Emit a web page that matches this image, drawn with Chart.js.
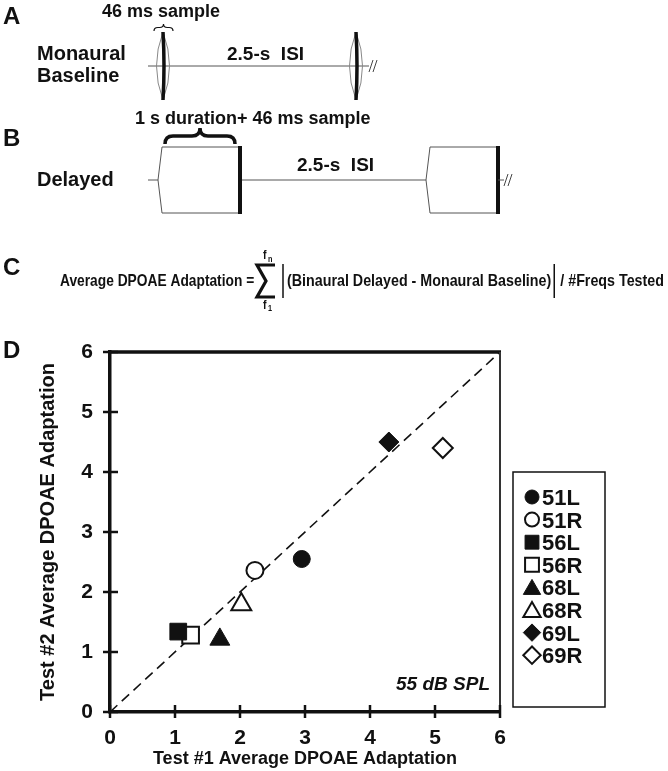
<!DOCTYPE html>
<html>
<head>
<meta charset="utf-8">
<script src="https://cdn.jsdelivr.net/npm/chart.js@4.4.1/dist/chart.umd.min.js"></script>
<style>
  html, body { margin: 0; padding: 0; background: #fff; }
  #wrap { position: relative; width: 668px; height: 771px; }
</style>
</head>
<body>
<div id="wrap"><canvas id="dpoae" width="668" height="771"></canvas></div>
<script>
// ---- data ----
const subjects = ['51L', '51R', '56L', '56R', '68L', '68R', '69L', '69R'];
const test1 = [2.95, 2.23, 1.05, 1.24, 1.69, 2.02, 4.29, 5.12];
const test2 = [2.55, 2.36, 1.34, 1.28, 1.21, 1.79, 4.50, 4.40];
const axisTicks = [0, 1, 2, 3, 4, 5, 6];
const unity = [0, 6];

const FONT = "'Liberation Sans', Arial, Helvetica, sans-serif";
const INK = '#111';

// marker look by ear number: shape + radius (plot / legend)
const shapeFor = { '51': 'circle', '56': 'rect', '68': 'triangle', '69': 'rectRot' };
const radiusFor = { circle: [8.5, 7], rect: [11.8, 9.8], triangle: [11.5, 10], rectRot: [10, 8.7] };

const markerOpts = (name, legend) => {
    const style = shapeFor[name.slice(0, 2)];
    const filled = name.endsWith('L');
    return {
        pointStyle: style,
        radius: radiusFor[style][legend ? 1 : 0],
        borderWidth: filled ? 1 : 2,
        rotation: 0,
        fill: filled ? INK : '#fff'
    };
};

// ---- little drawing helpers for the schematic panels ----
function txt(ctx, s, x, y, size, opts = {}) {
    ctx.save();
    ctx.font = `${opts.italic ? 'italic ' : ''}bold ${size}px ${FONT}`;
    ctx.fillStyle = INK;
    ctx.textAlign = opts.align || 'left';
    ctx.textBaseline = 'alphabetic';
    ctx.translate(x, y);
    if (opts.sx) ctx.scale(opts.sx, 1);
    ctx.fillText(s, 0, 0);
    const w = ctx.measureText(s).width * (opts.sx || 1);
    ctx.restore();
    return w;
}

function hline(ctx, x1, x2, y) {
    ctx.strokeStyle = '#555';
    ctx.lineWidth = 1;
    ctx.beginPath(); ctx.moveTo(x1, y); ctx.lineTo(x2, y); ctx.stroke();
}

function brace(ctx, x1, x2, yBase, yTip, lw) {
    const xc = (x1 + x2) / 2, ym = (yBase + yTip) / 2, r = Math.min(8, (x2 - x1) / 5);
    ctx.strokeStyle = INK;
    ctx.lineWidth = lw;
    ctx.beginPath();
    ctx.moveTo(x1, yBase);
    ctx.quadraticCurveTo(x1, ym, x1 + r, ym);
    ctx.lineTo(xc - r, ym);
    ctx.quadraticCurveTo(xc, ym, xc, yTip);
    ctx.quadraticCurveTo(xc, ym, xc + r, ym);
    ctx.lineTo(x2 - r, ym);
    ctx.quadraticCurveTo(x2, ym, x2, yBase);
    ctx.stroke();
}

function burst(ctx, x, y1, y2) {
    const ym = (y1 + y2) / 2;
    ctx.strokeStyle = '#888';
    ctx.lineWidth = 1;
    ctx.beginPath();
    ctx.moveTo(x, y1);
    ctx.quadraticCurveTo(x - 13, ym, x, y2);
    ctx.quadraticCurveTo(x + 13, ym, x, y1);
    ctx.stroke();
    ctx.strokeStyle = INK;
    ctx.lineWidth = 3.5;
    ctx.beginPath();
    ctx.moveTo(x, y1);
    ctx.quadraticCurveTo(x + 2, ym, x, y2);
    ctx.stroke();
}

function stim(ctx, x1, x2, y1, y2) {
    const ym = (y1 + y2) / 2;
    ctx.strokeStyle = '#555';
    ctx.lineWidth = 1;
    ctx.beginPath();
    ctx.moveTo(x2, y1); ctx.lineTo(x1, y1); ctx.lineTo(x1 - 4, ym);
    ctx.lineTo(x1, y2); ctx.lineTo(x2, y2);
    ctx.stroke();
    ctx.strokeStyle = INK;
    ctx.lineWidth = 4;
    ctx.beginPath(); ctx.moveTo(x2, y1 - 1); ctx.lineTo(x2, y2 + 1); ctx.stroke();
}

function slashes(ctx, x, y) {
    ctx.strokeStyle = '#444';
    ctx.lineWidth = 1;
    ctx.beginPath();
    ctx.moveTo(x, y + 6); ctx.lineTo(x + 4, y - 6);
    ctx.moveTo(x + 4, y + 6); ctx.lineTo(x + 8, y - 6);
    ctx.stroke();
}

function drawSchematic(ctx) {
    txt(ctx, 'A', 3, 24, 24);
    txt(ctx, 'B', 3, 146, 24);
    txt(ctx, 'C', 3, 275, 24);
    txt(ctx, 'D', 3, 358, 24);

    // A: monaural baseline
    txt(ctx, '46 ms sample', 102, 17, 18);
    brace(ctx, 154, 173, 31, 24, 1.2);
    txt(ctx, 'Monaural', 37, 60, 20);
    txt(ctx, 'Baseline', 37, 82, 20);
    hline(ctx, 148, 369, 66);
    burst(ctx, 163, 32, 100);
    burst(ctx, 356, 32, 100);
    txt(ctx, '2.5-s  ISI', 227, 60, 19);
    slashes(ctx, 369, 66);

    // B: delayed
    txt(ctx, '1 s duration+ 46 ms sample', 135, 124, 18);
    brace(ctx, 165, 235, 144, 128, 3.5);
    txt(ctx, 'Delayed', 37, 186, 20);
    hline(ctx, 148, 158, 180);
    hline(ctx, 240, 426, 180);
    stim(ctx, 162, 240, 147, 213);
    stim(ctx, 430, 498, 147, 213);
    hline(ctx, 498, 504, 180);
    slashes(ctx, 504, 180);
    txt(ctx, '2.5-s  ISI', 297, 171, 19);

    // C: formula
    const base = 286, sx = 0.81, sx2 = 0.84;
    txt(ctx, 'Average DPOAE Adaptation =', 60, base, 17, { sx });
    ctx.strokeStyle = INK;
    ctx.lineWidth = 3.2;
    ctx.lineJoin = 'miter';
    ctx.beginPath();
    ctx.moveTo(275, 265); ctx.lineTo(257, 265); ctx.lineTo(266, 281);
    ctx.lineTo(257, 297); ctx.lineTo(275, 297);
    ctx.stroke();
    txt(ctx, 'f', 263, 259, 13, { sx });
    txt(ctx, 'n', 268, 262, 9, { sx });
    txt(ctx, 'f', 263, 309, 13, { sx });
    txt(ctx, '1', 268, 311, 9, { sx });
    ctx.lineWidth = 1.5;
    ctx.beginPath(); ctx.moveTo(283, 264); ctx.lineTo(283, 298); ctx.stroke();
    const w = txt(ctx, '(Binaural Delayed - Monaural Baseline)', 287, base, 17, { sx: sx2 });
    const bx = 287 + w + 3;
    ctx.beginPath(); ctx.moveTo(bx, 264); ctx.lineTo(bx, 298); ctx.stroke();
    txt(ctx, '/ #Freqs Tested', bx + 6, base, 17, { sx: sx2 });
}

function drawLegend(ctx) {
    ctx.strokeStyle = INK;
    ctx.lineWidth = 1.5;
    ctx.strokeRect(513, 472, 92, 235);
    subjects.forEach((name, i) => {
        const y = 497 + i * 22.6;
        const m = markerOpts(name, true);
        ctx.save();
        ctx.fillStyle = m.fill;
        ctx.strokeStyle = INK;
        ctx.lineWidth = m.borderWidth;
        Chart.helpers.drawPoint(ctx, m, 532, y + (m.pointStyle === 'triangle' ? 2 : 0));
        ctx.restore();
        txt(ctx, name, 542, y + 8, 22);
    });
}

const decorPlugin = {
    id: 'decor',
    afterDraw(chart) {
        const { ctx, chartArea: a, scales } = chart;
        ctx.save();
        // box: heavy top, lighter right
        ctx.strokeStyle = INK;
        ctx.lineWidth = 3.5;
        ctx.beginPath(); ctx.moveTo(a.left - 2, a.top); ctx.lineTo(a.right + 1, a.top); ctx.stroke();
        ctx.strokeStyle = '#333';
        ctx.lineWidth = 2;
        ctx.beginPath(); ctx.moveTo(a.right, a.top); ctx.lineTo(a.right, a.bottom); ctx.stroke();
        // tick marks crossing the axes
        ctx.strokeStyle = INK;
        ctx.lineWidth = 2.5;
        axisTicks.forEach(v => {
            const px = scales.x.getPixelForValue(v);
            ctx.beginPath(); ctx.moveTo(px, a.bottom - 7); ctx.lineTo(px, a.bottom + 6); ctx.stroke();
            const py = scales.y.getPixelForValue(v);
            ctx.beginPath(); ctx.moveTo(a.left - 7, py); ctx.lineTo(a.left + 8, py); ctx.stroke();
        });
        txt(ctx, '55 dB SPL', a.right - 10, a.bottom - 22, 19, { italic: true, align: 'right' });
        drawSchematic(ctx);
        drawLegend(ctx);
        ctx.restore();
    }
};

const pointSets = subjects.map((name, i) => {
    const m = markerOpts(name, false);
    return {
        label: name,
        data: [{ x: test1[i], y: test2[i] }],
        pointStyle: m.pointStyle,
        pointRadius: m.radius,
        pointBackgroundColor: m.fill,
        pointBorderColor: INK,
        pointBorderWidth: m.borderWidth,
        order: 0
    };
});

const unitySet = {
    label: 'unity',
    data: unity.map(v => ({ x: v, y: v })),
    showLine: true,
    borderColor: INK,
    borderWidth: 1.6,
    borderDash: [10, 6],
    pointRadius: 0,
    order: 10
};

const axisCommon = {
    min: 0,
    max: 6,
    afterBuildTicks: s => { s.ticks = axisTicks.map(v => ({ value: v })); },
    grid: { display: false, drawTicks: false },
    border: { display: true, color: INK, width: 3.5 },
    ticks: { color: INK, font: { family: FONT, size: 21, weight: 'bold' } }
};

Chart.defaults.font.family = FONT;

new Chart(document.getElementById('dpoae'), {
    type: 'scatter',
    data: { datasets: [unitySet, ...pointSets] },
    options: {
        responsive: false,
        animation: false,
        layout: { padding: { left: 0, top: 352, right: 168, bottom: 0 } },
        plugins: { legend: { display: false }, tooltip: { enabled: false } },
        scales: {
            x: {
                ...axisCommon,
                ticks: { ...axisCommon.ticks, padding: 14 },
                afterFit: s => { s.height = 59; },
                title: {
                    display: true,
                    text: 'Test #1 Average DPOAE Adaptation',
                    color: INK,
                    font: { family: FONT, size: 18, weight: 'bold' },
                    padding: { top: 0, bottom: 1 }
                }
            },
            y: {
                ...axisCommon,
                ticks: { ...axisCommon.ticks, padding: 17 },
                afterFit: s => { s.width = 110; },
                title: {
                    display: true,
                    text: 'Test #2 Average DPOAE Adaptation',
                    color: INK,
                    font: { family: FONT, size: 20, weight: 'bold' },
                    padding: { top: 36, bottom: 0 }
                }
            }
        }
    },
    plugins: [decorPlugin]
});
</script>
</body>
</html>
